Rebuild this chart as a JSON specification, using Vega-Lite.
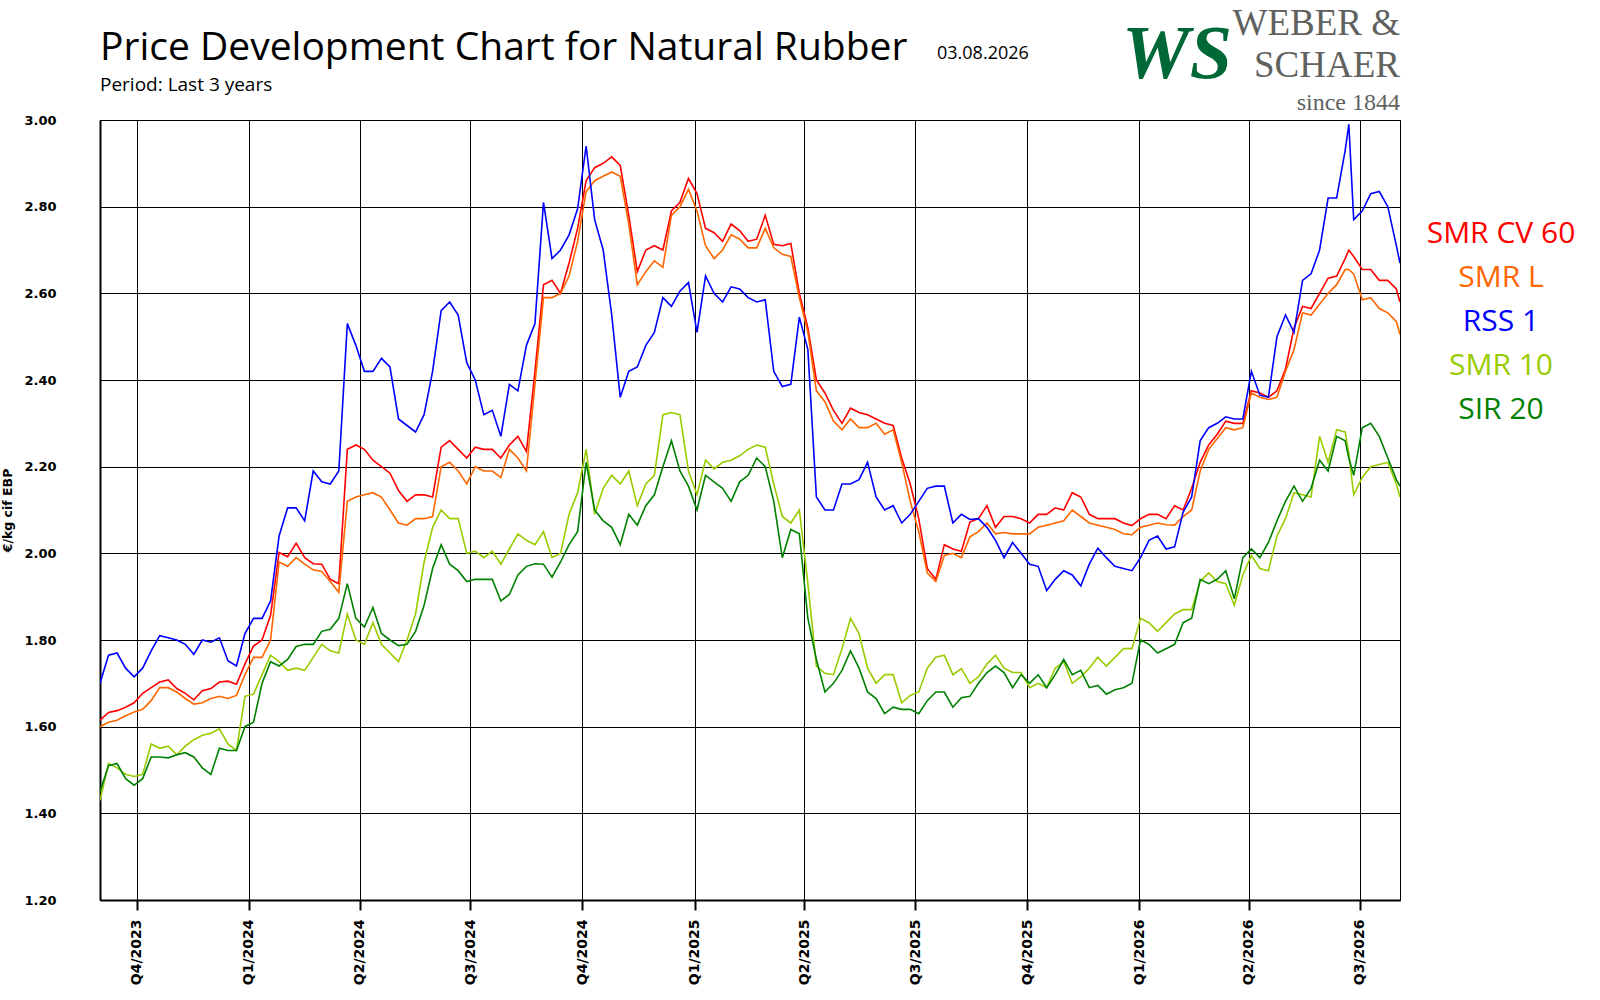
{
  "$schema": "https://vega.github.io/schema/vega-lite/v6.json",
  "width": 1300,
  "height": 780,
  "autosize": {"type": "none"},
  "padding": {"left": 100, "top": 120, "right": 200, "bottom": 100},
  "background": "white",
  "config": {
    "view": {"stroke": "black", "strokeWidth": 1},
    "font": "Open Sans"
  },
  "layer": [
    {
      "data": {
        "values": [
          {"d":"2023-09-01","cv":1.615,"l":1.6,"r":1.7,"s10":1.43,"s20":1.45},
          {"d":"2023-09-08","cv":1.633,"l":1.61,"r":1.765,"s10":1.515,"s20":1.51},
          {"d":"2023-09-15","cv":1.637,"l":1.615,"r":1.77,"s10":1.505,"s20":1.515},
          {"d":"2023-09-22","cv":1.645,"l":1.625,"r":1.735,"s10":1.49,"s20":1.48},
          {"d":"2023-09-29","cv":1.655,"l":1.634,"r":1.715,"s10":1.485,"s20":1.465},
          {"d":"2023-10-06","cv":1.677,"l":1.64,"r":1.735,"s10":1.49,"s20":1.48},
          {"d":"2023-10-13","cv":1.69,"l":1.66,"r":1.775,"s10":1.56,"s20":1.53},
          {"d":"2023-10-20","cv":1.703,"l":1.69,"r":1.81,"s10":1.55,"s20":1.53},
          {"d":"2023-10-27","cv":1.708,"l":1.69,"r":1.805,"s10":1.555,"s20":1.528},
          {"d":"2023-11-03","cv":1.688,"l":1.68,"r":1.8,"s10":1.535,"s20":1.535},
          {"d":"2023-11-10","cv":1.677,"l":1.665,"r":1.79,"s10":1.555,"s20":1.54},
          {"d":"2023-11-17","cv":1.662,"l":1.652,"r":1.767,"s10":1.57,"s20":1.53},
          {"d":"2023-11-24","cv":1.683,"l":1.655,"r":1.8,"s10":1.58,"s20":1.505},
          {"d":"2023-12-01","cv":1.688,"l":1.665,"r":1.795,"s10":1.585,"s20":1.49},
          {"d":"2023-12-08","cv":1.703,"l":1.67,"r":1.805,"s10":1.595,"s20":1.55},
          {"d":"2023-12-15","cv":1.705,"l":1.665,"r":1.752,"s10":1.56,"s20":1.545},
          {"d":"2023-12-22","cv":1.698,"l":1.672,"r":1.74,"s10":1.545,"s20":1.545},
          {"d":"2023-12-29","cv":1.745,"l":1.72,"r":1.815,"s10":1.67,"s20":1.6},
          {"d":"2024-01-05","cv":1.786,"l":1.76,"r":1.85,"s10":1.675,"s20":1.61},
          {"d":"2024-01-12","cv":1.8,"l":1.76,"r":1.85,"s10":1.72,"s20":1.7},
          {"d":"2024-01-19","cv":1.857,"l":1.8,"r":1.89,"s10":1.765,"s20":1.75},
          {"d":"2024-01-26","cv":2.002,"l":1.98,"r":2.04,"s10":1.75,"s20":1.74},
          {"d":"2024-02-02","cv":1.992,"l":1.97,"r":2.105,"s10":1.73,"s20":1.755},
          {"d":"2024-02-09","cv":2.023,"l":1.99,"r":2.105,"s10":1.735,"s20":1.785},
          {"d":"2024-02-16","cv":1.99,"l":1.975,"r":2.075,"s10":1.73,"s20":1.79},
          {"d":"2024-02-23","cv":1.976,"l":1.962,"r":2.19,"s10":1.76,"s20":1.79},
          {"d":"2024-03-01","cv":1.975,"l":1.958,"r":2.165,"s10":1.79,"s20":1.82},
          {"d":"2024-03-08","cv":1.94,"l":1.935,"r":2.16,"s10":1.775,"s20":1.825},
          {"d":"2024-03-15","cv":1.93,"l":1.91,"r":2.19,"s10":1.77,"s20":1.85},
          {"d":"2024-03-22","cv":2.24,"l":2.12,"r":2.53,"s10":1.86,"s20":1.93},
          {"d":"2024-03-29","cv":2.25,"l":2.13,"r":2.48,"s10":1.8,"s20":1.85},
          {"d":"2024-04-05","cv":2.24,"l":2.135,"r":2.42,"s10":1.79,"s20":1.83},
          {"d":"2024-04-12","cv":2.215,"l":2.14,"r":2.42,"s10":1.84,"s20":1.875},
          {"d":"2024-04-19","cv":2.2,"l":2.13,"r":2.45,"s10":1.79,"s20":1.815},
          {"d":"2024-04-26","cv":2.185,"l":2.1,"r":2.43,"s10":1.77,"s20":1.8},
          {"d":"2024-05-03","cv":2.145,"l":2.07,"r":2.31,"s10":1.75,"s20":1.787},
          {"d":"2024-05-10","cv":2.12,"l":2.065,"r":2.295,"s10":1.8,"s20":1.79},
          {"d":"2024-05-17","cv":2.135,"l":2.08,"r":2.28,"s10":1.86,"s20":1.82},
          {"d":"2024-05-24","cv":2.135,"l":2.08,"r":2.32,"s10":1.98,"s20":1.88},
          {"d":"2024-05-31","cv":2.13,"l":2.085,"r":2.42,"s10":2.06,"s20":1.965},
          {"d":"2024-06-07","cv":2.245,"l":2.2,"r":2.56,"s10":2.1,"s20":2.02},
          {"d":"2024-06-14","cv":2.26,"l":2.21,"r":2.58,"s10":2.08,"s20":1.975},
          {"d":"2024-06-21","cv":2.24,"l":2.19,"r":2.55,"s10":2.08,"s20":1.96},
          {"d":"2024-06-28","cv":2.22,"l":2.16,"r":2.44,"s10":2.0,"s20":1.935},
          {"d":"2024-07-05","cv":2.245,"l":2.2,"r":2.4,"s10":2.005,"s20":1.94},
          {"d":"2024-07-12","cv":2.24,"l":2.19,"r":2.32,"s10":1.99,"s20":1.94},
          {"d":"2024-07-19","cv":2.24,"l":2.19,"r":2.33,"s10":2.005,"s20":1.94},
          {"d":"2024-07-26","cv":2.22,"l":2.175,"r":2.27,"s10":1.975,"s20":1.89},
          {"d":"2024-08-02","cv":2.25,"l":2.24,"r":2.39,"s10":2.01,"s20":1.905},
          {"d":"2024-08-09","cv":2.27,"l":2.22,"r":2.375,"s10":2.045,"s20":1.95},
          {"d":"2024-08-16","cv":2.235,"l":2.19,"r":2.48,"s10":2.03,"s20":1.97},
          {"d":"2024-08-23","cv":2.42,"l":2.39,"r":2.53,"s10":2.02,"s20":1.976},
          {"d":"2024-08-30","cv":2.62,"l":2.59,"r":2.81,"s10":2.05,"s20":1.975},
          {"d":"2024-09-06","cv":2.63,"l":2.59,"r":2.68,"s10":1.99,"s20":1.945},
          {"d":"2024-09-13","cv":2.6,"l":2.6,"r":2.7,"s10":2.0,"s20":1.98},
          {"d":"2024-09-20","cv":2.67,"l":2.64,"r":2.735,"s10":2.09,"s20":2.02},
          {"d":"2024-09-27","cv":2.75,"l":2.72,"r":2.795,"s10":2.14,"s20":2.05},
          {"d":"2024-10-04","cv":2.86,"l":2.835,"r":2.94,"s10":2.24,"s20":2.21},
          {"d":"2024-10-11","cv":2.89,"l":2.86,"r":2.77,"s10":2.09,"s20":2.1},
          {"d":"2024-10-18","cv":2.9,"l":2.87,"r":2.7,"s10":2.15,"s20":2.075},
          {"d":"2024-10-25","cv":2.915,"l":2.88,"r":2.55,"s10":2.18,"s20":2.06},
          {"d":"2024-11-01","cv":2.895,"l":2.87,"r":2.36,"s10":2.16,"s20":2.02},
          {"d":"2024-11-08","cv":2.78,"l":2.76,"r":2.42,"s10":2.19,"s20":2.09},
          {"d":"2024-11-15","cv":2.65,"l":2.62,"r":2.43,"s10":2.11,"s20":2.065},
          {"d":"2024-11-22","cv":2.7,"l":2.65,"r":2.48,"s10":2.16,"s20":2.11},
          {"d":"2024-11-29","cv":2.71,"l":2.675,"r":2.51,"s10":2.18,"s20":2.135},
          {"d":"2024-12-06","cv":2.7,"l":2.66,"r":2.59,"s10":2.32,"s20":2.2},
          {"d":"2024-12-13","cv":2.79,"l":2.78,"r":2.57,"s10":2.325,"s20":2.26},
          {"d":"2024-12-20","cv":2.81,"l":2.8,"r":2.605,"s10":2.32,"s20":2.19},
          {"d":"2024-12-27","cv":2.865,"l":2.84,"r":2.625,"s10":2.19,"s20":2.155},
          {"d":"2025-01-03","cv":2.83,"l":2.79,"r":2.51,"s10":2.135,"s20":2.1},
          {"d":"2025-01-10","cv":2.75,"l":2.71,"r":2.64,"s10":2.215,"s20":2.18},
          {"d":"2025-01-17","cv":2.74,"l":2.68,"r":2.6,"s10":2.195,"s20":2.165},
          {"d":"2025-01-24","cv":2.72,"l":2.7,"r":2.58,"s10":2.21,"s20":2.15},
          {"d":"2025-01-31","cv":2.76,"l":2.735,"r":2.615,"s10":2.215,"s20":2.12},
          {"d":"2025-02-07","cv":2.745,"l":2.725,"r":2.61,"s10":2.225,"s20":2.165},
          {"d":"2025-02-14","cv":2.72,"l":2.705,"r":2.59,"s10":2.24,"s20":2.18},
          {"d":"2025-02-21","cv":2.725,"l":2.705,"r":2.58,"s10":2.25,"s20":2.22},
          {"d":"2025-02-28","cv":2.78,"l":2.75,"r":2.585,"s10":2.245,"s20":2.2},
          {"d":"2025-03-07","cv":2.713,"l":2.705,"r":2.42,"s10":2.16,"s20":2.12},
          {"d":"2025-03-14","cv":2.71,"l":2.69,"r":2.385,"s10":2.085,"s20":1.99},
          {"d":"2025-03-21","cv":2.715,"l":2.685,"r":2.39,"s10":2.07,"s20":2.055},
          {"d":"2025-03-28","cv":2.6,"l":2.59,"r":2.545,"s10":2.1,"s20":2.045},
          {"d":"2025-04-04","cv":2.52,"l":2.51,"r":2.47,"s10":1.93,"s20":1.85},
          {"d":"2025-04-11","cv":2.4,"l":2.375,"r":2.13,"s10":1.74,"s20":1.755},
          {"d":"2025-04-18","cv":2.37,"l":2.35,"r":2.1,"s10":1.723,"s20":1.68},
          {"d":"2025-04-25","cv":2.33,"l":2.305,"r":2.1,"s10":1.72,"s20":1.7},
          {"d":"2025-05-02","cv":2.3,"l":2.285,"r":2.16,"s10":1.78,"s20":1.73},
          {"d":"2025-05-09","cv":2.335,"l":2.31,"r":2.16,"s10":1.85,"s20":1.775},
          {"d":"2025-05-16","cv":2.325,"l":2.29,"r":2.17,"s10":1.815,"s20":1.735},
          {"d":"2025-05-23","cv":2.32,"l":2.29,"r":2.21,"s10":1.735,"s20":1.68},
          {"d":"2025-05-30","cv":2.31,"l":2.3,"r":2.13,"s10":1.7,"s20":1.665},
          {"d":"2025-06-06","cv":2.3,"l":2.275,"r":2.1,"s10":1.72,"s20":1.63},
          {"d":"2025-06-13","cv":2.295,"l":2.285,"r":2.11,"s10":1.72,"s20":1.645},
          {"d":"2025-06-20","cv":2.22,"l":2.21,"r":2.07,"s10":1.655,"s20":1.64},
          {"d":"2025-06-27","cv":2.16,"l":2.12,"r":2.09,"s10":1.672,"s20":1.64},
          {"d":"2025-07-04","cv":2.08,"l":2.05,"r":2.12,"s10":1.68,"s20":1.63},
          {"d":"2025-07-11","cv":1.965,"l":1.955,"r":2.15,"s10":1.735,"s20":1.66},
          {"d":"2025-07-18","cv":1.94,"l":1.935,"r":2.155,"s10":1.76,"s20":1.68},
          {"d":"2025-07-25","cv":2.02,"l":1.995,"r":2.155,"s10":1.765,"s20":1.68},
          {"d":"2025-08-01","cv":2.01,"l":2.0,"r":2.07,"s10":1.72,"s20":1.645},
          {"d":"2025-08-08","cv":2.005,"l":1.99,"r":2.09,"s10":1.734,"s20":1.667},
          {"d":"2025-08-15","cv":2.072,"l":2.038,"r":2.078,"s10":1.7,"s20":1.67},
          {"d":"2025-08-22","cv":2.08,"l":2.05,"r":2.08,"s10":1.715,"s20":1.7},
          {"d":"2025-08-29","cv":2.11,"l":2.07,"r":2.06,"s10":1.745,"s20":1.725},
          {"d":"2025-09-05","cv":2.06,"l":2.045,"r":2.03,"s10":1.765,"s20":1.74},
          {"d":"2025-09-12","cv":2.085,"l":2.048,"r":1.99,"s10":1.735,"s20":1.725},
          {"d":"2025-09-19","cv":2.085,"l":2.045,"r":2.025,"s10":1.725,"s20":1.69},
          {"d":"2025-09-26","cv":2.08,"l":2.045,"r":2.0,"s10":1.725,"s20":1.72},
          {"d":"2025-10-03","cv":2.07,"l":2.045,"r":1.975,"s10":1.69,"s20":1.7},
          {"d":"2025-10-10","cv":2.09,"l":2.06,"r":1.97,"s10":1.7,"s20":1.72},
          {"d":"2025-10-17","cv":2.09,"l":2.065,"r":1.914,"s10":1.69,"s20":1.69},
          {"d":"2025-10-24","cv":2.105,"l":2.07,"r":1.94,"s10":1.735,"s20":1.72},
          {"d":"2025-10-31","cv":2.1,"l":2.075,"r":1.96,"s10":1.75,"s20":1.755},
          {"d":"2025-11-07","cv":2.14,"l":2.1,"r":1.95,"s10":1.7,"s20":1.72},
          {"d":"2025-11-14","cv":2.13,"l":2.085,"r":1.925,"s10":1.715,"s20":1.73},
          {"d":"2025-11-21","cv":2.09,"l":2.07,"r":1.975,"s10":1.735,"s20":1.69},
          {"d":"2025-11-28","cv":2.08,"l":2.065,"r":2.012,"s10":1.76,"s20":1.695},
          {"d":"2025-12-05","cv":2.08,"l":2.06,"r":1.99,"s10":1.74,"s20":1.675},
          {"d":"2025-12-12","cv":2.08,"l":2.055,"r":1.97,"s10":1.76,"s20":1.685},
          {"d":"2025-12-19","cv":2.07,"l":2.045,"r":1.965,"s10":1.78,"s20":1.69},
          {"d":"2025-12-26","cv":2.064,"l":2.043,"r":1.96,"s10":1.78,"s20":1.7},
          {"d":"2026-01-02","cv":2.08,"l":2.06,"r":1.99,"s10":1.85,"s20":1.8},
          {"d":"2026-01-09","cv":2.09,"l":2.065,"r":2.03,"s10":1.84,"s20":1.79},
          {"d":"2026-01-16","cv":2.09,"l":2.07,"r":2.04,"s10":1.82,"s20":1.77},
          {"d":"2026-01-23","cv":2.08,"l":2.066,"r":2.01,"s10":1.84,"s20":1.78},
          {"d":"2026-01-30","cv":2.11,"l":2.065,"r":2.015,"s10":1.86,"s20":1.79},
          {"d":"2026-02-06","cv":2.1,"l":2.085,"r":2.095,"s10":1.87,"s20":1.84},
          {"d":"2026-02-13","cv":2.15,"l":2.1,"r":2.13,"s10":1.87,"s20":1.85},
          {"d":"2026-02-20","cv":2.21,"l":2.19,"r":2.26,"s10":1.935,"s20":1.94},
          {"d":"2026-02-27","cv":2.25,"l":2.24,"r":2.29,"s10":1.955,"s20":1.93},
          {"d":"2026-03-06","cv":2.275,"l":2.265,"r":2.3,"s10":1.935,"s20":1.94},
          {"d":"2026-03-13","cv":2.305,"l":2.29,"r":2.315,"s10":1.93,"s20":1.96},
          {"d":"2026-03-20","cv":2.3,"l":2.285,"r":2.31,"s10":1.88,"s20":1.895},
          {"d":"2026-03-27","cv":2.3,"l":2.29,"r":2.31,"s10":1.95,"s20":1.99},
          {"d":"2026-04-03","cv":2.375,"l":2.37,"r":2.42,"s10":1.995,"s20":2.01},
          {"d":"2026-04-10","cv":2.37,"l":2.36,"r":2.365,"s10":1.965,"s20":1.99},
          {"d":"2026-04-17","cv":2.36,"l":2.355,"r":2.36,"s10":1.96,"s20":2.025},
          {"d":"2026-04-24","cv":2.375,"l":2.36,"r":2.5,"s10":2.04,"s20":2.075},
          {"d":"2026-05-01","cv":2.425,"l":2.42,"r":2.55,"s10":2.08,"s20":2.12},
          {"d":"2026-05-08","cv":2.52,"l":2.47,"r":2.51,"s10":2.14,"s20":2.155},
          {"d":"2026-05-15","cv":2.57,"l":2.555,"r":2.63,"s10":2.135,"s20":2.12},
          {"d":"2026-05-22","cv":2.565,"l":2.55,"r":2.645,"s10":2.13,"s20":2.15},
          {"d":"2026-05-29","cv":2.6,"l":2.575,"r":2.7,"s10":2.27,"s20":2.215},
          {"d":"2026-06-05","cv":2.635,"l":2.6,"r":2.82,"s10":2.21,"s20":2.19},
          {"d":"2026-06-12","cv":2.64,"l":2.62,"r":2.82,"s10":2.285,"s20":2.27},
          {"d":"2026-06-19","cv":2.68,"l":2.655,"r":2.93,"s10":2.28,"s20":2.26},
          {"d":"2026-06-22","cv":2.7,"l":2.655,"r":2.99,"s10":2.23,"s20":2.22},
          {"d":"2026-06-26","cv":2.685,"l":2.645,"r":2.77,"s10":2.135,"s20":2.18},
          {"d":"2026-07-03","cv":2.655,"l":2.585,"r":2.79,"s10":2.175,"s20":2.29},
          {"d":"2026-07-10","cv":2.655,"l":2.59,"r":2.83,"s10":2.2,"s20":2.3},
          {"d":"2026-07-17","cv":2.63,"l":2.565,"r":2.835,"s10":2.205,"s20":2.27},
          {"d":"2026-07-24","cv":2.63,"l":2.555,"r":2.8,"s10":2.21,"s20":2.22},
          {"d":"2026-07-31","cv":2.61,"l":2.535,"r":2.71,"s10":2.16,"s20":2.17},
          {"d":"2026-08-03","cv":2.58,"l":2.505,"r":2.67,"s10":2.13,"s20":2.155}
        ]
      },
      "transform": [
        {"fold": ["cv", "l", "r", "s10", "s20"], "as": ["series", "price"]}
      ],
      "mark": {"type": "line", "strokeWidth": 1.6, "clip": true},
      "encoding": {
        "x": {
          "field": "d",
          "type": "temporal",
          "scale": {
            "domain": [
              {"year": 2023, "month": 9, "date": 1},
              {"year": 2026, "month": 8, "date": 3}
            ]
          },
          "axis": {
            "title": null,
            "tickCount": {"interval": "month", "step": 3},
            "labelExpr": "'Q' + quarter(datum.value) + '/' + year(datum.value)",
            "labelAngle": -90,
            "labelFont": "DejaVu Sans",
            "labelFontWeight": "bold",
            "labelFontSize": 14,
            "labelColor": "black",
            "labelPadding": 9,
            "labelFlush": false,
            "labelOverlap": false,
            "tickSize": 10,
            "tickWidth": 2,
            "tickColor": "black",
            "domainColor": "black",
            "domainWidth": 2,
            "grid": true,
            "gridColor": "black",
            "gridWidth": 1,
            "gridOpacity": 1
          }
        },
        "y": {
          "field": "price",
          "type": "quantitative",
          "scale": {"domain": [1.2, 3.0], "nice": false, "zero": false},
          "axis": {
            "title": "€/kg cif EBP",
            "titleFont": "DejaVu Sans",
            "titleFontWeight": "bold",
            "titleFontSize": 12.5,
            "titleColor": "black",
            "titlePadding": 9,
            "values": [1.2, 1.4, 1.6, 1.8, 2.0, 2.2, 2.4, 2.6, 2.8, 3.0],
            "format": ".2f",
            "ticks": false,
            "tickSize": 0,
            "labelFont": "DejaVu Sans",
            "labelFontWeight": "bold",
            "labelFontSize": 13,
            "labelColor": "black",
            "labelPadding": 44,
            "labelFlush": false,
            "domainColor": "black",
            "domainWidth": 2,
            "grid": true,
            "gridColor": "black",
            "gridWidth": 1,
            "gridOpacity": 1
          }
        },
        "color": {
          "field": "series",
          "type": "nominal",
          "scale": {
            "domain": ["cv", "l", "r", "s10", "s20"],
            "range": ["#ff0000", "#ff6600", "#0000ff", "#99cc00", "#008000"]
          },
          "legend": {
            "orient": "none",
            "legendX": 1371,
            "legendY": 99,
            "title": null,
            "padding": 0,
            "labelExpr": "datum.label == 'cv' ? 'SMR CV 60' : datum.label == 'l' ? 'SMR L' : datum.label == 'r' ? 'RSS 1' : datum.label == 's10' ? 'SMR 10' : 'SIR 20'",
            "labelFont": "Open Sans",
            "labelFontSize": 30,
            "labelAlign": "center",
            "labelOffset": 0,
            "labelLimit": 400,
            "symbolSize": 0,
            "symbolStrokeWidth": 0,
            "symbolOpacity": 0,
            "rowPadding": 14,
            "encode": {
              "labels": {
                "update": {"fill": {"scale": "color", "field": "value"}}
              }
            }
          }
        }
      }
    },
    {
      "data": {"values": [{"t": "Price Development Chart for Natural Rubber"}]},
      "mark": {"type": "text", "align": "left", "baseline": "alphabetic", "font": "Open Sans", "fontSize": 39, "color": "black"},
      "encoding": {
        "text": {"field": "t"},
        "x": {"datum": {"year": 2023, "month": 9, "date": 1}, "type": "temporal"},
        "y": {"datum": 3.1385, "type": "quantitative"}
      }
    },
    {
      "data": {"values": [{"t": "Period: Last 3 years"}]},
      "mark": {"type": "text", "align": "left", "baseline": "alphabetic", "font": "Open Sans", "fontSize": 19, "color": "black"},
      "encoding": {
        "text": {"field": "t"},
        "x": {"datum": {"year": 2023, "month": 9, "date": 1}, "type": "temporal"},
        "y": {"datum": 3.067, "type": "quantitative"}
      }
    },
    {
      "data": {"values": [{"t": "03.08.2026"}]},
      "mark": {"type": "text", "align": "left", "baseline": "alphabetic", "font": "Open Sans", "fontSize": 18, "color": "black"},
      "encoding": {
        "text": {"field": "t"},
        "x": {"datum": {"year": 2025, "month": 7, "date": 19}, "type": "temporal"},
        "y": {"datum": 3.141, "type": "quantitative"}
      }
    },
    {
      "data": {"values": [{"t": "WS"}]},
      "mark": {"type": "text", "align": "center", "baseline": "alphabetic", "font": "Liberation Serif", "fontStyle": "italic", "fontWeight": "bold", "fontSize": 76, "color": "#006837"},
      "encoding": {
        "text": {"field": "t"},
        "x": {"datum": {"year": 2026, "month": 2, "date": 1}, "type": "temporal"},
        "y": {"datum": 3.097, "type": "quantitative"}
      }
    },
    {
      "data": {"values": [{"t": "WEBER &", "p": 3.196}, {"t": "SCHAER", "p": 3.099}]},
      "mark": {"type": "text", "align": "right", "baseline": "alphabetic", "font": "Liberation Serif", "fontSize": 37, "color": "#5f625f"},
      "encoding": {
        "text": {"field": "t"},
        "x": {"datum": {"year": 2026, "month": 8, "date": 3}, "type": "temporal"},
        "y": {"field": "p", "type": "quantitative"}
      }
    },
    {
      "data": {"values": [{"t": "since 1844"}]},
      "mark": {"type": "text", "align": "right", "baseline": "alphabetic", "font": "Liberation Serif", "fontSize": 24, "color": "#5f625f"},
      "encoding": {
        "text": {"field": "t"},
        "x": {"datum": {"year": 2026, "month": 8, "date": 3}, "type": "temporal"},
        "y": {"datum": 3.023, "type": "quantitative"}
      }
    }
  ]
}
